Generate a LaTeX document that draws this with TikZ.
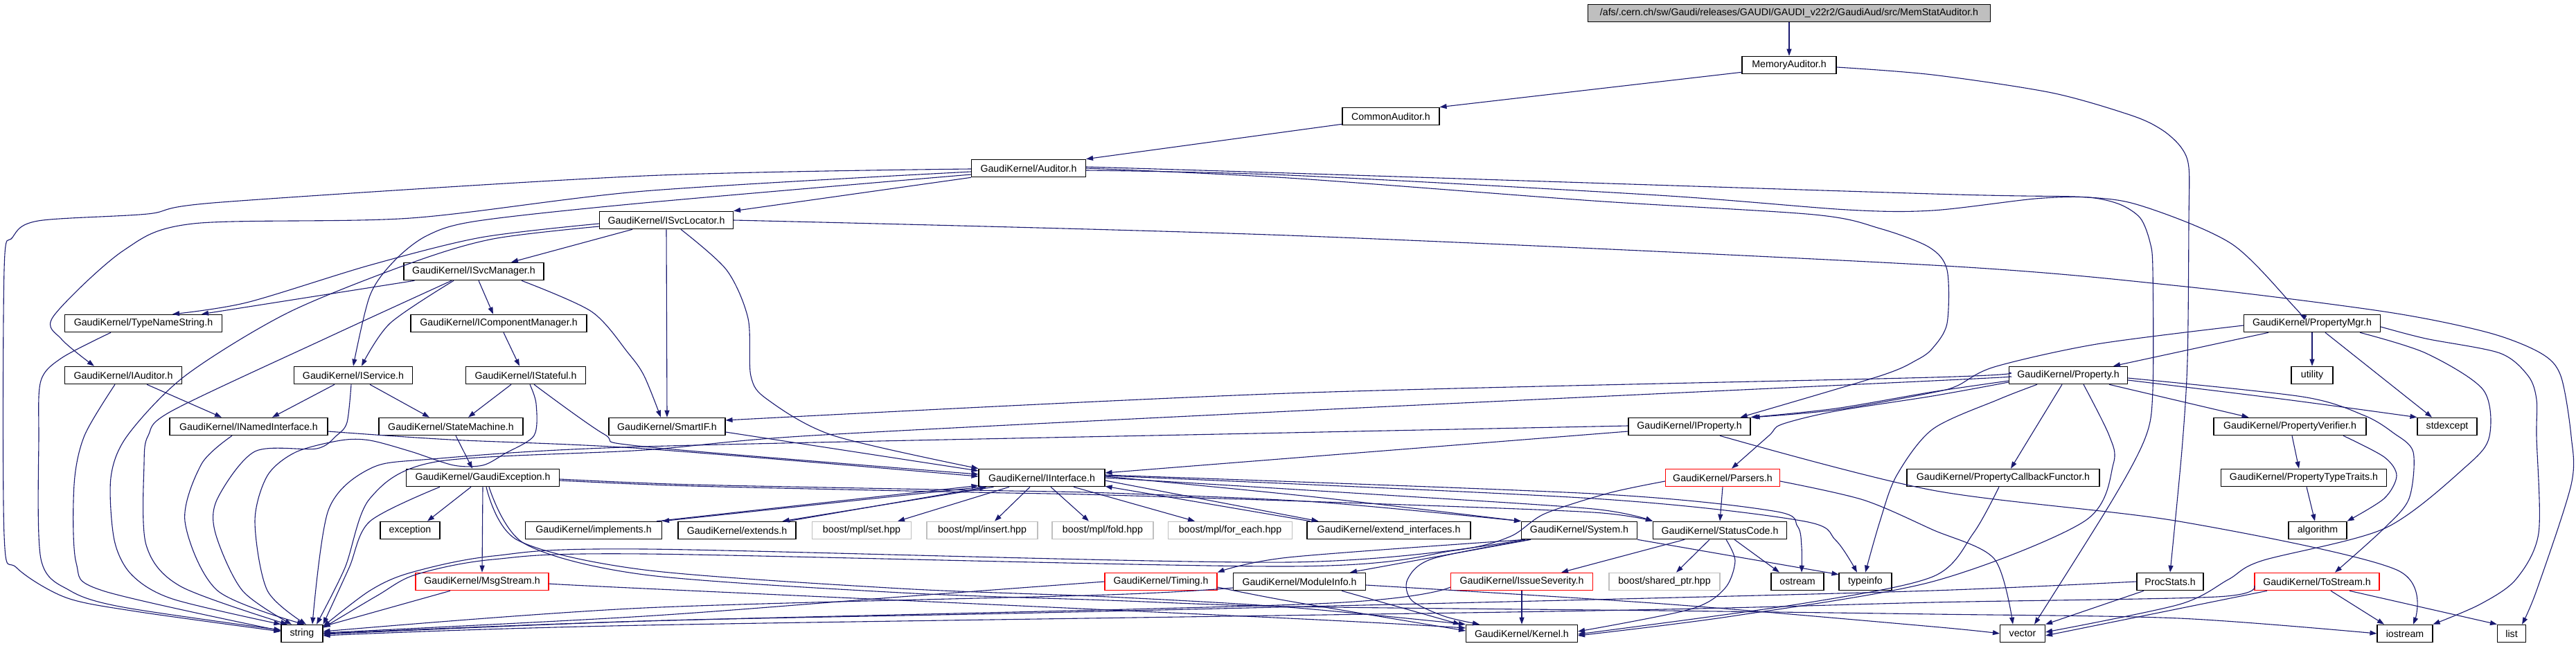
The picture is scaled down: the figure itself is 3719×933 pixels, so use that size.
\documentclass[tikz,border=0pt]{standalone}
\usepackage{fontspec}
\setmainfont{Liberation Sans}
\usetikzlibrary{arrows.meta}
\definecolor{edgec}{HTML}{191970}
\definecolor{rootfill}{HTML}{BFBFBF}
\begin{document}
\begin{tikzpicture}[x=1pt,y=-1pt,
  box/.style={draw=black, line width=1.1pt, fill=white, minimum height=25.5pt, inner sep=1pt, font=\fontsize{14.2}{16}\selectfont, text=black},
  redbox/.style={box, draw=red},
  graybox/.style={box, draw=black!25},
  e/.style={draw=edgec, line width=1.1pt, -{Triangle[length=10pt,width=7pt]}},
  sm/.style={smooth, tension=0.5}
]
\useasboundingbox[fill=white] (0,0) rectangle (3719,933);
% nodes
\node[box, fill=rootfill, minimum width=581pt] (root) at (2583,19) {/afs/.cern.ch/sw/Gaudi/releases/GAUDI/GAUDI\_v22r2/GaudiAud/src/MemStatAuditor.h};
\node[box, minimum width=136pt] (mema) at (2583,94) {MemoryAuditor.h};
\node[box, minimum width=140pt] (comm) at (2008,168) {CommonAuditor.h};
\node[box, minimum width=165pt] (aud) at (1485,243) {GaudiKernel/Auditor.h};
\node[box, minimum width=193pt] (isl) at (962,318) {GaudiKernel/ISvcLocator.h};
\node[box, minimum width=202pt] (ism) at (684,392) {GaudiKernel/ISvcManager.h};
\node[box, minimum width=227pt] (tns) at (207,467) {GaudiKernel/TypeNameString.h};
\node[box, minimum width=254pt] (icm) at (720,467) {GaudiKernel/IComponentManager.h};
\node[box, minimum width=169pt] (iaud) at (178,542) {GaudiKernel/IAuditor.h};
\node[box, minimum width=171pt] (isvc) at (510,542) {GaudiKernel/IService.h};
\node[box, minimum width=173pt] (istf) at (759,542) {GaudiKernel/IStateful.h};
\node[box, minimum width=228pt] (ini) at (359,616) {GaudiKernel/INamedInterface.h};
\node[box, minimum width=208pt] (stm) at (651,616) {GaudiKernel/StateMachine.h};
\node[box, minimum width=168pt] (sif) at (963,616) {GaudiKernel/SmartIF.h};
\node[box, minimum width=197pt] (pmgr) at (3338,467) {GaudiKernel/PropertyMgr.h};
\node[box, minimum width=60pt] (util) at (3338,542) {utility};
\node[box, minimum width=171pt] (prop) at (2986,542) {GaudiKernel/Property.h};
\node[box, minimum width=176pt] (iprop) at (2439,616) {GaudiKernel/IProperty.h};
\node[box, minimum width=220pt] (pver) at (3306,616) {GaudiKernel/PropertyVerifier.h};
\node[box, minimum width=86pt] (stdx) at (3533,616) {stdexcept};
\node[box, minimum width=221pt] (gex) at (697,690) {GaudiKernel/GaudiException.h};
\node[box, minimum width=182pt] (iif) at (1504,690) {GaudiKernel/IInterface.h};
\node[redbox, minimum width=165pt] (pars) at (2487,690) {GaudiKernel/Parsers.h};
\node[box, minimum width=278pt] (pcf) at (2892,690) {GaudiKernel/PropertyCallbackFunctor.h};
\node[box, minimum width=239pt] (ptt) at (3326,690) {GaudiKernel/PropertyTypeTraits.h};
\node[box, minimum width=86pt] (exc) at (592,766) {exception};
\node[box, minimum width=197pt] (impl) at (857,766) {GaudiKernel/implements.h};
\node[box, minimum width=170pt] (ext) at (1064,766) {GaudiKernel/extends.h};
\node[graybox, minimum width=143pt] (mset) at (1244,766) {boost/mpl/set.hpp};
\node[graybox, minimum width=160pt] (mins) at (1418,766) {boost/mpl/insert.hpp};
\node[graybox, minimum width=146pt] (mfold) at (1592,766) {boost/mpl/fold.hpp};
\node[graybox, minimum width=179pt] (mfe) at (1776,766) {boost/mpl/for\_each.hpp};
\node[box, minimum width=236pt] (exti) at (2005,766) {GaudiKernel/extend\_interfaces.h};
\node[box, minimum width=167pt] (sys) at (2280,766) {GaudiKernel/System.h};
\node[box, minimum width=193pt] (stc) at (2483,766) {GaudiKernel/StatusCode.h};
\node[box, minimum width=84pt] (algo) at (3346,766) {algorithm};
\node[redbox, minimum width=192pt] (msg) at (696,840) {GaudiKernel/MsgStream.h};
\node[redbox, minimum width=162pt] (tim) at (1676,840) {GaudiKernel/Timing.h};
\node[box, minimum width=191pt] (modi) at (1876,840) {GaudiKernel/ModuleInfo.h};
\node[redbox, minimum width=205pt] (isev) at (2197,840) {GaudiKernel/IssueSeverity.h};
\node[graybox, minimum width=160pt] (shp) at (2403,840) {boost/shared\_ptr.hpp};
\node[box, minimum width=76pt] (ostr) at (2595,840) {ostream};
\node[box, minimum width=76pt] (tinfo) at (2693,840) {typeinfo};
\node[box, minimum width=96pt] (proc) at (3133,840) {ProcStats.h};
\node[redbox, minimum width=180pt] (tos) at (3345,840) {GaudiKernel/ToStream.h};
\node[box, minimum width=60pt] (str) at (436,915) {string};
\node[box, minimum width=161pt] (kern) at (2197,915) {GaudiKernel/Kernel.h};
\node[box, minimum width=65pt] (vec) at (2920,915) {vector};
\node[box, minimum width=80pt] (iost) at (3472,915) {iostream};
\node[box, minimum width=41pt] (lst) at (3626,915) {list};

% top chain
\draw[e] (root.south) -- (mema.north);
\draw[e] ([yshift=3pt]mema.south west) -- (comm.north east);
\draw[e] ([yshift=2pt]comm.south west) -- (aud.north east);
\draw[e] plot[sm] coordinates {([yshift=-3pt]mema.east) (2790,108) (2962,134) (3078,167) (3122,188) (3149,213) (3160,242) (3160,319) (3158,520) (3150,650) (proc.north)};
% Auditor
\draw[e] plot[sm] coordinates {([yshift=-1pt]aud.west) (930,254) (320,292) (213,309) (55,319) (18,343) (6,390) (6,773) (24,820) (95,863) (196,883) ([yshift=3pt]str.west)};
\draw[e] plot[sm] coordinates {([yshift=-5pt]aud.west) (930,276) (593,315) (279,323) (178,362) (77,457) (89,490) ([xshift=43pt]iaud.north west)};
\draw[e] plot[sm] coordinates {([yshift=-9pt]aud.west) (930,293) (690,319) (617,340) (569,377) (534,427) (isvc.north)};
\draw[e] (aud.south west) -- (isl.north east);
\draw[e] plot[sm] coordinates {(aud.east) (1860,257) (2300,290) (2619,310) (2714,330) (2785,357) (2811,390) (2811,467) (2790,503) (2767,520) (2714,543) ([xshift=-15pt]iprop.north east)};
\draw[e] plot[sm] coordinates {([yshift=2pt]aud.east) (1860,250) (2790,280) (3015,285) (3100,300) (3223,353) (3312,443) ([xshift=-18pt]pmgr.north)};
\draw[e] plot[sm] coordinates {([yshift=-3pt]aud.east) (1860,253) (2394,282) (2667,303) (2790,304) (2938,287) (3014,285) (3060,295) (3090,315) (3104,350) (3108,390) (3108,563) (3098,630) (3051,720) ([xshift=17pt]vec.north)};
% ISvcLocator
\draw[e] plot[sm] coordinates {([yshift=-5pt]isl.west) (694,343) (534,383) (356,437) ([xshift=42pt]tns.north)};
\draw[e] plot[sm] coordinates {([yshift=-9pt]isl.west) (712,345) (593,380) (415,452) (267,543) (184,629) (160,690) (165,780) (190,830) (249,865) (str.north west)};
\draw[e] ([xshift=-49pt]isl.south) -- ([xshift=54pt]ism.north);
\draw[e] (isl.south) -- (sif.north);
\draw[e] plot[sm] coordinates {([xshift=21pt]isl.south) (1049,390) (1080,460) (1084,543) (1108,577) (1203,629) (iif.north west)};
\draw[e] plot[sm] coordinates {(isl.east) (1860,340) (2790,383) (3146,413) (3442,450) (3591,480) (3668,510) (3697,543) (3712,630) (3712,700) (3662,853) ([xshift=15pt]lst.north)};
% ISvcManager
\draw[e] ([xshift=16pt]ism.south west) -- ([xshift=84pt]tns.north);
\draw[e] ([xshift=7pt]ism.south) -- ([xshift=-8pt]icm.north);
\draw[e] plot[sm] coordinates {([xshift=-29pt]ism.south) (563,467) ([xshift=12pt]isvc.north)};
\draw[e] plot[sm] coordinates {([xshift=-32pt]ism.south) (474,487) (249,593) (214,629) (208,670) (211,787) (261,847) ([xshift=-21pt]str.north)};
\draw[e] plot[sm] coordinates {([xshift=69pt]ism.south) (854,450) (907,510) (930,543) ([xshift=-9pt]sif.north)};
% TypeNameString, IComponentManager, IAuditor, IService, IStateful
\draw[e] plot[sm] coordinates {([xshift=-47pt]tns.south) (89,517) (59,550) (56,629) (59,807) (101,853) (178,877) ([yshift=5pt]str.west)};
\draw[e] ([xshift=7pt]icm.south) -- ([xshift=-9pt]istf.north);
\draw[e] ([xshift=-51pt]iaud.south east) -- ([xshift=-39pt]ini.north);
\draw[e] plot[sm] coordinates {([xshift=-12pt]iaud.south) (122,629) (107,700) (110,813) (148,853) ([yshift=4pt]str.west)};
\draw[e] ([xshift=-27pt]isvc.south) -- ([xshift=34pt]ini.north);
\draw[e] ([xshift=24pt]isvc.south) -- ([xshift=-31pt]stm.north);
\draw[e] plot[sm] coordinates {([xshift=-3pt]isvc.south) (501,610) (486,629) (457,648) (368,652) (314,720) (311,770) (350,853) ([xshift=-15pt]str.north)};
\draw[e] ([xshift=-21pt]istf.south) -- ([xshift=25pt]stm.north);
\draw[e] plot[sm] coordinates {([xshift=12pt]istf.south) (872,627) (930,645) ([yshift=5pt]iif.west)};
\draw[e] plot[sm] coordinates {([xshift=6pt]istf.south) (774,583) (771,629) (729,655) (697,672) (655,672) (593,652) (534,636) (492,636) (427,653) (386,687) (368,753) (386,853) ([xshift=6pt]str.north)};
% INamedInterface, StateMachine, SmartIF
\draw[e] plot[sm] coordinates {([yshift=-7pt]ini.east) (650,635) (930,648) ([yshift=2pt]iif.west)};
\draw[e] plot[sm] coordinates {([xshift=-24pt]ini.south) (291,670) (267,753) (314,853) ([xshift=3pt]str.north)};
\draw[e] ([xshift=7pt]stm.south) -- ([xshift=-15pt]gex.north);
\draw[e] ([yshift=-8pt]sif.east) -- ([yshift=10pt]iif.west);
% GaudiException
\draw[e] ([xshift=-17pt]gex.south) -- ([xshift=25pt]exc.north);
\draw[e] (gex.south) -- (msg.north);
\draw[e] plot[sm] coordinates {([xshift=-62pt]gex.south) (534,753) (504,820) (str.north east)};
\draw[e] plot[sm] coordinates {([xshift=5pt]gex.south) (747,780) (930,823) (1300,850) (1600,862) (1860,877) (kern.north west)};
\draw[e] plot[sm] coordinates {([xshift=9pt]gex.south) (757,785) (930,830) (1300,856) (1600,867) (1860,876) (2400,882) (2790,887) (3146,893) (iost.west)};
\draw[e] plot[sm] coordinates {([yshift=-2pt]gex.east) (1000,700) (1404,708) (1600,712) (1900,725) (sys.north west)};
\draw[e] plot[sm] coordinates {([yshift=-4pt]gex.east) (1000,702) (1404,711) (1600,715) (2000,728) (2300,740) (stc.north west)};
% IInterface
\draw[e] ([xshift=5pt]iif.south west) -- (impl.north east);
\draw[e] ([xshift=-8pt]impl.north east) -- ([yshift=2pt]iif.south west);
\draw[e] ([xshift=22pt]iif.south west) -- ([xshift=-20pt]ext.north east);
\draw[e] ([xshift=-12pt]ext.north east) -- ([xshift=12pt]iif.south west);
\draw[e] ([xshift=-47pt]iif.south) -- ([xshift=52pt]mset.north);
\draw[e] ([xshift=-17pt]iif.south) -- ([xshift=18pt]mins.north);
\draw[e] ([xshift=13pt]iif.south) -- ([xshift=-20pt]mfold.north);
\draw[e] ([xshift=46pt]iif.south) -- ([xshift=-51pt]mfe.north);
\draw[e] ([yshift=-4pt]iif.east) -- ([xshift=17pt]exti.north west);
\draw[e] ([xshift=5pt]exti.north west) -- ([yshift=1pt]iif.south east);
\draw[e] plot[sm] coordinates {([yshift=2pt]iif.east) (1900,718) (sys.north west)};
\draw[e] plot[sm] coordinates {(iif.east) (2000,715) (2300,735) (stc.north west)};
\draw[e] plot[sm] coordinates {([yshift=4pt]iif.east) (2300,713) (2560,738) (2595,760) (2601,790) ([xshift=6pt]ostr.north)};
\draw[e] plot[sm] coordinates {([yshift=3pt]iif.east) (2300,720) (2600,752) (2650,780) ([xshift=-12pt]tinfo.north)};
% System
\draw[e] ([xshift=-70pt]sys.south) -- ([xshift=73pt]modi.north);
\draw[e] plot[sm] coordinates {([xshift=-78pt]sys.south) (1860,805) (tim.north east)};
\draw[e] (sys.south east) -- ([yshift=-3pt]tinfo.north west);
\draw[e] plot[sm] coordinates {([xshift=-72pt]sys.south) (2068,807) (2032,837) (2038,867) (2085,890) ([xshift=20pt]kern.north west)};
\draw[e] plot[sm] coordinates {([xshift=-80pt]sys.south) (1860,812) (930,793) (712,803) (593,827) (534,853) ([yshift=-3pt]str.north east)};
% StatusCode
\draw[e] ([xshift=-51pt]stc.south) -- ([xshift=-46pt]isev.north east);
\draw[e] ([xshift=-15pt]stc.south) -- ([xshift=17pt]shp.north);
\draw[e] ([xshift=21pt]stc.south) -- ([xshift=-26pt]ostr.north);
\draw[e] plot[sm] coordinates {([xshift=9pt]stc.south) (2505,810) (2490,850) (2440,880) ([yshift=3pt]kern.east)};
% Parsers
\draw[e] (pars.south) -- (stc.north);
\draw[e] plot[sm] coordinates {([yshift=-5pt]pars.west) (2323,712) (2230,742) (2180,775) (2100,795) (1860,818) (930,800) (712,808) (600,830) (545,860) ([yshift=-5pt]str.north east)};
\draw[e] plot[sm] coordinates {([yshift=-5pt]pars.east) (2690,722) (2790,765) (2879,807) ([xshift=-14pt]vec.north)};
% Property & PropertyMgr
\draw[e] plot[sm] coordinates {([yshift=4pt]prop.west) (2790,545) (1860,568) ([yshift=9pt]sif.east)};
\draw[e] plot[sm] coordinates {([yshift=-2pt]prop.west) (2790,550) (1860,594) (1173,629) (930,650) (629,667) (534,720) (498,820) ([xshift=21pt]str.north)};
\draw[e] plot[sm] coordinates {([yshift=-8pt]prop.west) (2790,566) (2650,590) (iprop.north east)};
\draw[e] plot[sm] coordinates {([yshift=-3pt]pmgr.west) (3027,497) (2879,530) (2826,557) (2790,567) (2650,592) ([xshift=3pt]iprop.north east)};
\draw[e] plot[sm] coordinates {([yshift=-10pt]prop.west) (2790,572) (2649,594) (2572,613) (2554,629) ([xshift=13pt]pars.north)};
\draw[e] plot[sm] coordinates {([xshift=-45pt]prop.south) (2885,577) (2790,620) (2738,687) (2714,753) (tinfo.north)};
\draw[e] plot[sm] coordinates {([xshift=-9pt]prop.south) (2932,629) ([xshift=11pt]pcf.north)};
\draw[e] plot[sm] coordinates {([xshift=22pt]prop.south) (3045,629) (3051,670) (3009,753) (2790,840) (2500,890) ([yshift=-3pt]kern.east)};
\draw[e] ([xshift=59pt]prop.south) -- ([xshift=51pt]pver.north west);
\draw[e] plot[sm] coordinates {([yshift=-4pt]prop.east) (3324,573) (3413,600) (3455,625) (3484,653) (3478,720) (3442,763) ([xshift=26pt]tos.north)};
\draw[e] plot[sm] coordinates {([yshift=-7pt]prop.east) (3300,577) (stdx.north west)};
\draw[e] ([xshift=-63pt]pmgr.south) -- ([xshift=65pt]prop.north);
\draw[e] (pmgr.south) -- (util.north);
\draw[e] ([xshift=19pt]pmgr.south) -- ([xshift=-22pt]stdx.north);
\draw[e] plot[sm] coordinates {([xshift=-30pt]pmgr.south east) (3502,510) (3585,563) (3594,630) (3561,673) (3443,763) (3265,810) (3217,837) (3146,873) ([yshift=2pt]vec.east)};
\draw[e] plot[sm] coordinates {([yshift=-5pt]pmgr.east) (3502,489) (3609,510) (3650,543) (3662,577) (3662,630) (3665,770) (3632,837) (3580,873) (iost.north east)};
% IProperty
\draw[e] plot[sm] coordinates {([yshift=-7pt]iprop.west) (1860,662) ([yshift=7pt]iif.east)};
\draw[e] plot[sm] coordinates {([yshift=1pt]iprop.west) (1860,625) (930,645) (623,663) (534,677) (474,737) ([xshift=15pt]str.north)};
\draw[e] plot[sm] coordinates {([xshift=44pt]iprop.south) (2790,708) (3146,753) (3460,823) ([xshift=12pt]iost.north)};
\draw[e] plot[sm] coordinates {([xshift=-6pt]pcf.south) (2849,770) (2790,833) (2600,872) ([yshift=-1pt]kern.east)};
% PropertyVerifier etc
\draw[e] ([xshift=3pt]pver.south) -- ([xshift=-7pt]ptt.north);
\draw[e] plot[sm] coordinates {([xshift=77pt]pver.south) (3442,660) (3460,687) (3442,720) (algo.north east)};
\draw[e] ([xshift=4pt]ptt.south) -- ([xshift=-4pt]algo.north);
% ProcStats, ToStream
\draw[e] ([xshift=-38pt]proc.south) -- (vec.north east);
\draw[e] plot[sm] coordinates {(proc.west) (2790,853) (2300,866) (1500,885) (930,897) ([yshift=-1pt]str.east)};
\draw[e] ([xshift=-72pt]tos.south) -- ([yshift=-3pt]vec.east);
\draw[e] ([xshift=20pt]tos.south) -- ([xshift=-30pt]iost.north);
\draw[e] ([xshift=47pt]tos.south) -- (lst.north west);
\draw[e] plot[sm] coordinates {([yshift=-6pt]tos.west) (3200,862) (2790,870) (2300,882) (930,903) ([yshift=-3pt]str.east)};
% MsgStream, Timing, ModuleInfo, IssueSeverity
\draw[e] ([xshift=-46pt]msg.south) -- ([yshift=-3pt]str.north east);
\draw[e] plot[sm] coordinates {([yshift=-3pt]msg.east) (930,850) (1860,893) ([yshift=8pt]kern.west)};
\draw[e] plot[sm] coordinates {([yshift=-8pt]tim.east) (1860,868) ([yshift=4pt]kern.west)};
\draw[e] plot[sm] coordinates {(tim.west) (1300,862) (930,890) ([yshift=1pt]str.east)};
\draw[e] ([xshift=61pt]modi.south) -- ([xshift=-8pt]kern.north west);
\draw[e] plot[sm] coordinates {([yshift=-5pt]modi.east) (2400,872) (2790,905) (vec.west)};
\draw[e] plot[sm] coordinates {([yshift=-9pt]modi.west) (1600,859) (930,878) ([yshift=3pt]str.east)};
\draw[e] (isev.south) -- (kern.north);
\draw[e] plot[sm] coordinates {([yshift=-8pt]isev.west) (1900,872) (930,897) (str.east)};
\end{tikzpicture}
\end{document}
